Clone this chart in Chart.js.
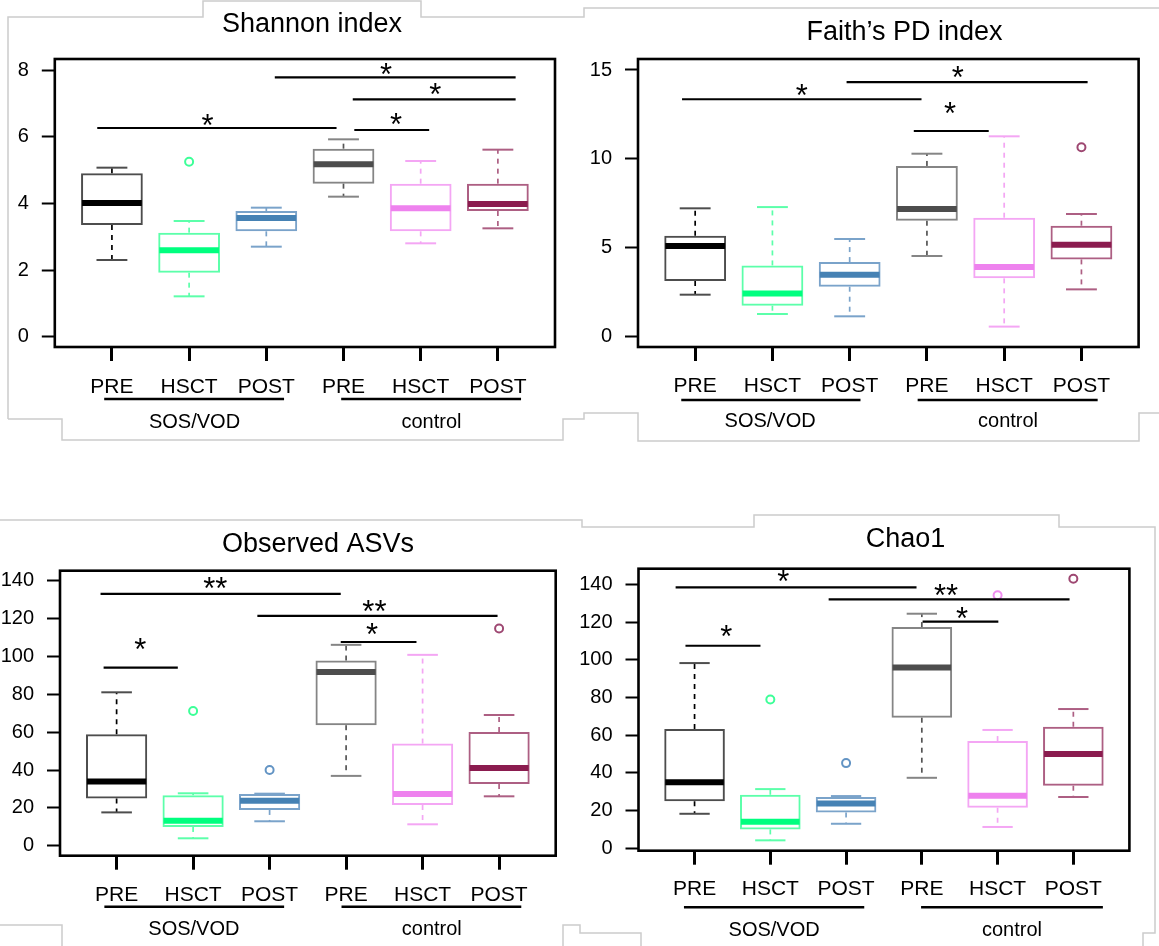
<!DOCTYPE html>
<html>
<head>
<meta charset="utf-8">
<script src="https://cdn.jsdelivr.net/npm/chart.js@4.4.1/dist/chart.umd.min.js"></script>
<style>
  body { margin: 0; background: #fff; width: 1159px; height: 946px; position: relative; overflow: hidden; }
  .panel { position: absolute; }
  svg.frames { position: absolute; left: 0; top: 0; }
</style>
</head>
<body>
<svg class="frames" width="1159" height="946" fill="none" stroke="#cccccc" stroke-width="1.5">
  <polyline points="8,419 8,17 203,17 203,1 421,1 421,17 584,17 584,8 1159,8"/>
  <polyline points="8,419 62,419 62,440 563,440 563,419 584,419 584,413 638,413 638,441 1139,441 1139,413 1159,413"/>
  <polyline points="0,520 582,520 582,527 754,527 754,515 1059,515 1059,527 1155,527 1155,933 1143,933 1143,946"/>
  <polyline points="0,925 62,925 62,946"/>
  <polyline points="563,946 563,925 580,925 580,933 641,933 641,946"/>
</svg>
<div class="panel" style="left:0px;top:0px"><canvas id="shannon" width="580" height="450"></canvas></div>
<div class="panel" style="left:580px;top:0px"><canvas id="faith" width="579" height="450"></canvas></div>
<div class="panel" style="left:0px;top:500px"><canvas id="asv" width="580" height="446"></canvas></div>
<div class="panel" style="left:580px;top:500px"><canvas id="chao" width="579" height="446"></canvas></div>

<script>
const FONT = '"Liberation Sans", Arial, sans-serif';

const categories = ["PRE", "HSCT", "POST", "PRE", "HSCT", "POST"];
const groupNames = ["SOS/VOD", "control"];

// Shannon index
const shannonTicks = [0, 2, 4, 6, 8];
const shannonLow = [2.30, 1.21, 2.70, 4.20, 2.80, 3.25];
const shannonQ1 = [3.35, 1.92, 3.16, 4.59, 3.16, 3.77];
const shannonMedian = [4.01, 2.59, 3.56, 5.17, 3.85, 3.98];
const shannonQ3 = [4.90, 3.12, 3.77, 5.64, 4.59, 4.59];
const shannonHigh = [5.07, 3.47, 3.87, 5.92, 5.27, 5.61];
const shannonOutlierX = [2];
const shannonOutlierY = [5.25];
const shannonSigFrom = [0.81, 4.14, 4.12, 3.11];
const shannonSigTo = [3.91, 5.11, 6.23, 6.23];
const shannonSigY = [6.26, 6.20, 7.12, 7.78];
const shannonSigLabel = ["*", "*", "*", "*"];
const shannonStarX = [2.24, 4.68, 5.19, 4.55];
const shannonStarY = [6.50, 6.52, 7.42, 8.03];

// Faith's PD index
const faithTicks = [0, 5, 10, 15];
const faithLow = [2.33, 1.24, 1.11, 4.51, 0.53, 2.63];
const faithQ1 = [3.10, 1.71, 2.78, 6.50, 3.25, 4.32];
const faithMedian = [5.08, 2.39, 3.46, 7.16, 3.89, 5.15];
const faithQ3 = [5.66, 3.98, 4.17, 9.59, 6.67, 6.22];
const faithHigh = [7.20, 7.27, 5.47, 10.28, 11.26, 6.88];
const faithOutlierX = [6];
const faithOutlierY = [10.64];
const faithSigFrom = [0.83, 2.96, 3.83];
const faithSigTo = [3.93, 6.08, 4.80];
const faithSigY = [13.35, 14.32, 11.56];
const faithSigLabel = ["*", "*", "*"];
const faithStarX = [2.38, 4.40, 4.30];
const faithStarY = [13.87, 14.85, 12.82];

// Observed ASVs
const asvTicks = [0, 20, 40, 60, 80, 100, 120, 140];
const asvLow = [17.6, 3.9, 12.9, 36.9, 11.3, 26.1];
const asvQ1 = [24.9, 9.9, 18.9, 63.7, 21.5, 32.6];
const asvMedian = [33.9, 13.2, 23.8, 91.9, 27.3, 41.1];
const asvQ3 = [58.9, 26.6, 27.3, 97.9, 54.0, 60.1];
const asvHigh = [81.1, 27.7, 27.5, 106.2, 100.9, 69.1];
const asvOutlierX = [2, 3, 6];
const asvOutlierY = [71.2, 40.0, 114.8];
const asvSigFrom = [0.79, 0.83, 2.84, 3.93];
const asvSigTo = [3.93, 1.80, 5.98, 4.92];
const asvSigY = [133.1, 94.2, 121.5, 107.7];
const asvSigLabel = ["**", "*", "**", "*"];
const asvStarX = [2.29, 1.31, 4.37, 4.34];
const asvStarY = [138.8, 106.2, 126.4, 114.1];

// Chao1
const chaoTicks = [0, 20, 40, 60, 80, 100, 120, 140];
const chaoLow = [18.2, 4.1, 12.9, 37.3, 11.2, 27.1];
const chaoQ1 = [24.8, 9.9, 18.9, 69.2, 21.4, 33.1];
const chaoMedian = [34.9, 14.0, 23.7, 95.9, 27.8, 49.9];
const chaoQ3 = [63.2, 28.3, 27.1, 117.3, 56.8, 64.4];
const chaoHigh = [98.2, 31.3, 27.6, 124.4, 62.7, 73.8];
const chaoOutlierX = [2, 3, 5, 6];
const chaoOutlierY = [78.9, 45.1, 134.2, 143.0];
const chaoSigFrom = [0.75, 0.88, 2.77, 4.01];
const chaoSigTo = [3.93, 1.87, 5.95, 5.01];
const chaoSigY = [138.4, 107.4, 132.0, 120.2];
const chaoSigLabel = ["*", "*", "**", "*"];
const chaoStarX = [2.17, 1.42, 4.32, 4.53];
const chaoStarY = [144.1, 115.2, 136.6, 124.6];

// colours per box
const medianColors = ["#000000", "#00ff7f", "#4682b4", "#4d4d4d", "#ee82ee", "#8b1c4f"];
const boxColors = ["#4d4d4d", "#5cffaa", "#7aa3ca", "#858585", "#f4a6f4", "#ad5f83"];
const whiskerColors = ["#000000", "#5cffaa", "#7aa3ca", "#555555", "#f4a6f4", "#ad5f83"];
const outlierColors = ["#000000", "#3dff98", "#6394c4", "#666666", "#f08ef0", "#9e4872"];

const X_AXIS_H = 60;

const panels = [
  {
    canvas: "shannon", title: "Shannon index", left: 0, top: 0, width: 580, height: 450,
    area: { left: 54.8, top: 59, right: 555, bottom: 347 }, yMin: -0.31, yMax: 8.33,
    titleX: 312, titleY: 25, labelPad: 13.4, underlineY: 399, groupY: 422,
    underlines: [[0.90, 3.23], [3.97, 6.30]], groupX: [2.07, 5.14],
    ticks: shannonTicks, low: shannonLow, q1: shannonQ1, median: shannonMedian, q3: shannonQ3, high: shannonHigh,
    outX: shannonOutlierX, outY: shannonOutlierY,
    sigFrom: shannonSigFrom, sigTo: shannonSigTo, sigY: shannonSigY, sigLabel: shannonSigLabel, starX: shannonStarX, starY: shannonStarY
  },
  {
    canvas: "faith", title: "Faith\u2019s PD index", left: 580, top: 0, width: 579, height: 450,
    area: { left: 638, top: 59, right: 1138.6, bottom: 347 }, yMin: -0.62, yMax: 15.62,
    titleX: 904.5, titleY: 33, labelPad: 12.4, underlineY: 400, groupY: 421.7,
    underlines: [[0.82, 3.14], [3.88, 6.21]], groupX: [1.97, 5.05],
    ticks: faithTicks, low: faithLow, q1: faithQ1, median: faithMedian, q3: faithQ3, high: faithHigh,
    outX: faithOutlierX, outY: faithOutlierY,
    sigFrom: faithSigFrom, sigTo: faithSigTo, sigY: faithSigY, sigLabel: faithSigLabel, starX: faithStarX, starY: faithStarY
  },
  {
    canvas: "asv", title: "Observed ASVs", left: 0, top: 500, width: 580, height: 446,
    area: { left: 60, top: 570.7, right: 555.7, bottom: 855.7 }, yMin: -5.3, yMax: 145.4,
    titleX: 318, titleY: 545, labelPad: 12.7, underlineY: 906.7, groupY: 929,
    underlines: [[0.84, 3.19], [3.94, 6.29]], groupX: [2.01, 5.12],
    ticks: asvTicks, low: asvLow, q1: asvQ1, median: asvMedian, q3: asvQ3, high: asvHigh,
    outX: asvOutlierX, outY: asvOutlierY,
    sigFrom: asvSigFrom, sigTo: asvSigTo, sigY: asvSigY, sigLabel: asvSigLabel, starX: asvStarX, starY: asvStarY
  },
  {
    canvas: "chao", title: "Chao1", left: 580, top: 500, width: 579, height: 446,
    area: { left: 638.5, top: 568.7, right: 1129.4, bottom: 850.7 }, yMin: -1.4, yMax: 148.3,
    titleX: 905.6, titleY: 540, labelPad: 11.7, underlineY: 907.3, groupY: 930,
    underlines: [[0.86, 3.24], [3.99, 6.39]], groupX: [2.05, 5.19],
    ticks: chaoTicks, low: chaoLow, q1: chaoQ1, median: chaoMedian, q3: chaoQ3, high: chaoHigh,
    outX: chaoOutlierX, outY: chaoOutlierY,
    sigFrom: chaoSigFrom, sigTo: chaoSigTo, sigY: chaoSigY, sigLabel: chaoSigLabel, starX: chaoStarX, starY: chaoStarY
  }
];

function line(ctx, x1, y1, x2, y2, color, width, dash) {
  ctx.save();
  ctx.strokeStyle = color;
  ctx.lineWidth = width;
  ctx.setLineDash(dash || []);
  ctx.beginPath();
  ctx.moveTo(x1, y1);
  ctx.lineTo(x2, y2);
  ctx.stroke();
  ctx.restore();
}

function text(ctx, str, x, y, size) {
  ctx.save();
  ctx.fillStyle = "#000";
  ctx.font = size + "px " + FONT;
  ctx.textAlign = "center";
  ctx.textBaseline = "middle";
  ctx.fillText(str, x, y);
  ctx.restore();
}

function extrasPlugin(p) {
  return {
    id: "boxExtras",
    afterDatasetsDraw(chart) {
      const ctx = chart.ctx;
      const xs = chart.scales.x;
      const ys = chart.scales.y;
      const bars = chart.getDatasetMeta(0).data;

      categories.forEach((c, i) => {
        const x = xs.getPixelForValue(i + 1);
        const half = bars[i].width / 2;
        const cap = half / 2;
        const yLow = ys.getPixelForValue(p.low[i]);
        const yHigh = ys.getPixelForValue(p.high[i]);
        const yQ1 = ys.getPixelForValue(p.q1[i]);
        const yQ3 = ys.getPixelForValue(p.q3[i]);
        const yMed = ys.getPixelForValue(p.median[i]);

        line(ctx, x, yQ3, x, yHigh, whiskerColors[i], 1.7, [5, 5]);
        line(ctx, x, yQ1, x, yLow, whiskerColors[i], 1.7, [5, 5]);
        line(ctx, x - cap, yHigh, x + cap, yHigh, boxColors[i], 2);
        line(ctx, x - cap, yLow, x + cap, yLow, boxColors[i], 2);
        line(ctx, x - half + 1, yMed, x + half - 1, yMed, medianColors[i], 6);
      });

      // significance bars
      p.sigY.forEach((v, i) => {
        const y = ys.getPixelForValue(v);
        line(ctx, xs.getPixelForValue(p.sigFrom[i]), y, xs.getPixelForValue(p.sigTo[i]), y, "#000", 2.2);
        text(ctx, p.sigLabel[i], xs.getPixelForValue(p.starX[i]), ys.getPixelForValue(p.starY[i]) + 7, 31);
      });
    },
    afterDraw(chart) {
      const ctx = chart.ctx;
      const xs = chart.scales.x;
      const a = chart.chartArea;

      ctx.save();
      ctx.strokeStyle = "#000";
      ctx.lineWidth = 2.6;
      ctx.strokeRect(a.left, a.top, a.right - a.left, a.bottom - a.top);
      ctx.restore();

      text(ctx, p.title, p.titleX - p.left, p.titleY - p.top, 27);

      groupNames.forEach((g, i) => {
        const uy = p.underlineY - p.top;
        line(ctx, xs.getPixelForValue(p.underlines[i][0]), uy, xs.getPixelForValue(p.underlines[i][1]), uy, "#000", 2.5);
        text(ctx, g, xs.getPixelForValue(p.groupX[i]), p.groupY - p.top, 20);
      });
    }
  };
}

function makePanel(p) {
  const yAxisWidth = p.area.left - p.left;

  new Chart(document.getElementById(p.canvas), {
    type: "bar",
    data: {
      datasets: [
        {
          type: "bar",
          data: categories.map((c, i) => ({ x: i + 1, y: [p.q1[i], p.q3[i]] })),
          backgroundColor: "rgba(255,255,255,0)",
          borderColor: boxColors,
          borderWidth: 2,
          borderSkipped: false,
          barPercentage: 0.8,
          categoryPercentage: 1
        },
        {
          type: "scatter",
          data: p.outX.map((x, i) => ({ x: x, y: p.outY[i] })),
          pointRadius: 4,
          pointBorderWidth: 2,
          pointBackgroundColor: "rgba(255,255,255,0)",
          pointBorderColor: p.outX.map(x => outlierColors[x - 1])
        }
      ]
    },
    options: {
      responsive: false,
      animation: false,
      events: [],
      layout: {
        padding: {
          left: 0,
          top: p.area.top - p.top,
          right: p.left + p.width - p.area.right,
          bottom: p.top + p.height - p.area.bottom - X_AXIS_H
        }
      },
      plugins: {
        legend: { display: false },
        tooltip: { enabled: false }
      },
      scales: {
        x: {
          type: "linear",
          offset: false,
          min: 0.26,
          max: 6.74,
          afterBuildTicks: scale => {
            scale.ticks = categories.map((c, i) => ({ value: i + 1 }));
          },
          afterFit: scale => { scale.height = X_AXIS_H; },
          ticks: {
            callback: (value, index) => categories[index],
            autoSkip: false,
            maxRotation: 0,
            padding: p.labelPad,
            color: "#000",
            font: { family: FONT, size: 21 }
          },
          grid: { offset: false, drawOnChartArea: false, tickLength: 14, tickWidth: 3, tickColor: "#000" },
          border: { display: false }
        },
        y: {
          min: p.yMin,
          max: p.yMax,
          afterBuildTicks: scale => {
            scale.ticks = p.ticks.map(v => ({ value: v }));
          },
          afterFit: scale => { scale.width = yAxisWidth; },
          ticks: {
            padding: 13,
            color: "#000",
            font: { family: FONT, size: 20 }
          },
          grid: { drawOnChartArea: false, tickLength: 13, tickWidth: 2, tickColor: "#000" },
          border: { display: false }
        }
      }
    },
    plugins: [extrasPlugin(p)]
  });
}

panels.forEach(makePanel);
</script>
</body>
</html>
